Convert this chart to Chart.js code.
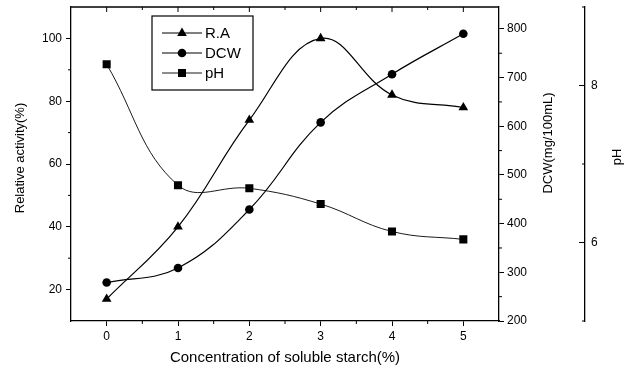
<!DOCTYPE html>
<html>
<head>
<meta charset="utf-8">
<script src="https://cdn.jsdelivr.net/npm/chart.js@4.4.1/dist/chart.umd.min.js"></script>
<style>
  html, body { margin: 0; padding: 0; background: #fff; }
</style>
</head>
<body>
<canvas id="chartStarch" width="627" height="374"></canvas>
<script>
// soluble starch concentration (%)
const CONC = ["0", "1", "2", "3", "4", "5"];
// relative activity (%), dry cell weight (mg/100mL), pH
const RA = [17, 40, 74, 100, 82, 78];
const DCW = [279, 309, 429, 608, 707, 790];
const PH = [8.27, 6.73, 6.69, 6.49, 6.14, 6.04];

const RA_TICKS = [20, 40, 60, 80, 100];
const RA_MINOR = [30, 50, 70, 90];
const DCW_TICKS = [200, 300, 400, 500, 600, 700, 800];
const DCW_MINOR = [250, 350, 450, 550, 650, 750];
const PH_TICKS = [6, 8];
const PH_MINOR = [5, 7, 9];

const FONT = 'Arial, "Liberation Sans", sans-serif';
Chart.defaults.font.family = FONT;
Chart.defaults.color = "#000";

function setTicks(list) {
    return (scale) => {
        scale.ticks = list.map((v) => ({ value: v }));
    };
}

// fixed axis width, and no extra room asked for half-height tick labels
function fixWidth(w) {
    return (scale) => {
        scale.width = w;
        scale.paddingTop = 0;
        scale.paddingBottom = 0;
    };
}

function marker(ctx, style, x, y) {
    ctx.beginPath();
    if (style === "triangle") {
        ctx.moveTo(x, y - 5.5);
        ctx.lineTo(x + 4.8, y + 3);
        ctx.lineTo(x - 4.8, y + 3);
        ctx.closePath();
    } else if (style === "circle") {
        ctx.arc(x, y, 4.3, 0, Math.PI * 2);
    } else {
        ctx.rect(x - 4, y - 4, 8, 8);
    }
    ctx.fill();
}

// Origin-like frame: inward top ticks, minor ticks, left-pointing pH ticks,
// rotated right-hand titles and the boxed legend
const originFrame = {
    id: "originFrame",
    afterDraw(chart) {
        const { ctx, chartArea: a, scales } = chart;
        const line = (x1, y1, x2, y2) => {
            ctx.beginPath();
            ctx.moveTo(x1, y1);
            ctx.lineTo(x2, y2);
            ctx.stroke();
        };
        ctx.save();
        ctx.strokeStyle = "#000";
        ctx.fillStyle = "#000";
        ctx.lineWidth = 1.3;
        line(a.left, a.top, a.right, a.top);

        ctx.lineWidth = 1;
        CONC.forEach((c, i) => {
            const x = scales.x.getPixelForValue(i);
            line(x, a.top, x, a.top + 5);
            if (i < CONC.length - 1) {
                const xm = scales.x.getPixelForValue(i + 0.5);
                line(xm, a.top, xm, a.top + 3);
                line(xm, a.bottom, xm, a.bottom + 3);
            }
        });
        RA_MINOR.forEach((v) => {
            const y = scales.y.getPixelForValue(v);
            line(a.left - 3, y, a.left, y);
        });
        DCW_MINOR.forEach((v) => {
            const y = scales.dcw.getPixelForValue(v);
            line(a.right, y, a.right + 3, y);
        });
        const phX = scales.ph.left;
        PH_TICKS.forEach((v) => {
            const y = scales.ph.getPixelForValue(v);
            line(phX - 6, y, phX, y);
        });
        PH_MINOR.forEach((v) => {
            const y = scales.ph.getPixelForValue(v);
            line(phX - 3, y, phX, y);
        });

        // axis titles read bottom-to-top as in the original
        ctx.font = "13px " + FONT;
        ctx.textAlign = "center";
        ctx.textBaseline = "middle";
        const mid = (a.top + a.bottom) / 2;
        const vTitle = (text, x, y) => {
            ctx.save();
            ctx.translate(x, y);
            ctx.rotate(-Math.PI / 2);
            ctx.fillText(text, 0, 0);
            ctx.restore();
        };
        vTitle("Relative activity(%)", scales.y.left + 20, mid - 6);
        vTitle("DCW(mg/100mL)", scales.dcw.left + 49, mid - 21);
        vTitle("pH", scales.ph.left + 32, mid - 7);

        // legend
        const bx = a.left + 81, by = a.top + 9;
        ctx.fillStyle = "#fff";
        ctx.fillRect(bx, by, 101, 74);
        ctx.fillStyle = "#000";
        ctx.lineWidth = 1.2;
        ctx.strokeRect(bx, by, 101, 74);
        ctx.textAlign = "left";
        ctx.font = "15px " + FONT;
        chart.data.datasets.forEach((ds, i) => {
            const y = by + 17 + i * 20;
            ctx.lineWidth = ds.borderWidth;
            line(bx + 10, y, bx + 50, y);
            marker(ctx, ds.pointStyle, bx + 30, y);
            ctx.fillText(ds.label, bx + 53, y + 1);
        });
        ctx.restore();
    },
};

const tickFont = { size: 12 };
const black = {
    borderColor: "#000",
    backgroundColor: "#000",
    pointBackgroundColor: "#000",
    pointBorderColor: "#000",
    pointBorderWidth: 0,
    tension: 0.4,
    fill: false,
};

new Chart(document.getElementById("chartStarch"), {
    type: "line",
    data: {
        labels: CONC,
        datasets: [
            {
                ...black,
                label: "R.A",
                data: RA,
                yAxisID: "y",
                pointStyle: "triangle",
                pointRadius: 5.6,
                borderWidth: 1.2,
            },
            {
                ...black,
                label: "DCW",
                data: DCW,
                yAxisID: "dcw",
                pointStyle: "circle",
                pointRadius: 4.3,
                borderWidth: 1.2,
            },
            {
                ...black,
                label: "pH",
                data: PH,
                yAxisID: "ph",
                pointStyle: "rect",
                pointRadius: 5.7,
                borderWidth: 0.9,
            },
        ],
    },
    options: {
        responsive: false,
        animation: false,
        devicePixelRatio: 1,
        layout: { padding: { top: 7, left: 0, right: 0, bottom: 0 } },
        plugins: {
            legend: { display: false },
            tooltip: { enabled: false },
            colors: { enabled: false },
        },
        scales: {
            x: {
                type: "category",
                offset: true,
                grid: { drawOnChartArea: false, tickLength: 5, color: "#000" },
                border: { color: "#000", width: 1.3 },
                ticks: { font: tickFont, padding: 3, maxRotation: 0 },
                title: {
                    display: true,
                    text: "Concentration of soluble starch(%)",
                    font: { size: 15 },
                    padding: { top: 0, bottom: 7 },
                },
                afterFit: (s) => { s.height = 53; },
            },
            y: {
                position: "left",
                min: 10,
                max: 110,
                afterBuildTicks: setTicks(RA_TICKS),
                grid: { drawOnChartArea: false, tickLength: 5, color: "#000" },
                border: { color: "#000", width: 1.3 },
                ticks: { font: tickFont, padding: 4 },
                afterFit: fixWidth(71),
            },
            dcw: {
                position: "right",
                weight: 0,
                min: 200,
                max: 845,
                afterBuildTicks: setTicks(DCW_TICKS),
                grid: { drawOnChartArea: false, tickLength: 5, color: "#000" },
                border: { color: "#000", width: 1.3 },
                ticks: { font: tickFont, padding: 3 },
                afterFit: fixWidth(86),
            },
            ph: {
                position: "right",
                weight: 1,
                min: 5,
                max: 9,
                afterBuildTicks: setTicks(PH_TICKS),
                grid: { drawOnChartArea: false, drawTicks: false },
                border: { color: "#000", width: 1.3 },
                ticks: { font: tickFont, padding: 6 },
                afterFit: fixWidth(42),
            },
        },
    },
    plugins: [originFrame],
});
</script>
</body>
</html>
